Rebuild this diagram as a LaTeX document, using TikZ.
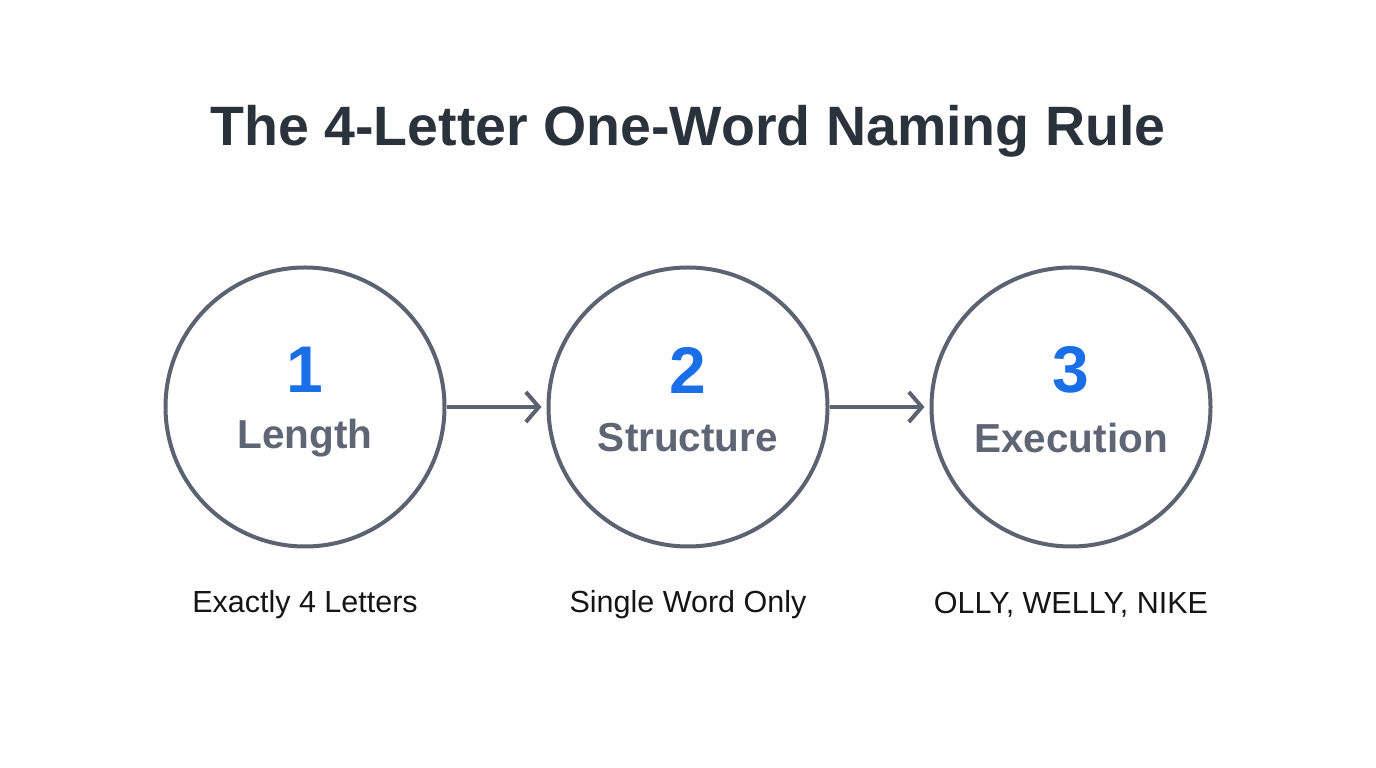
\documentclass[tikz,border=0pt]{standalone}
\usepackage{fontspec}
\setmainfont{Liberation Sans}
\usetikzlibrary{arrows.meta}
\definecolor{ringgray}{HTML}{5B6270}
\definecolor{numblue}{HTML}{1A6FE8}
\definecolor{titlecol}{HTML}{2A323C}
\definecolor{labgray}{HTML}{5F6673}
\definecolor{captcol}{HTML}{151515}
\begin{document}
\begin{tikzpicture}[x=1pt,y=1pt,
  ring/.style={circle,draw=ringgray,line width=4pt,minimum size=279pt,inner sep=0pt},
  numtxt/.style={font=\fontsize{66}{70}\selectfont\bfseries,text=numblue},
  labtxt/.style={font=\fontsize{40.5}{44}\selectfont\bfseries,text=labgray},
  capt/.style={font=\fontsize{30.5}{34}\selectfont,text=captcol},
  conn/.style={draw=ringgray,line width=4pt,-{Straight Barb[length=13pt,width=30pt,line width=4pt]}}]
\useasboundingbox (0,0) rectangle (1376,768);
\fill[white] (0,0) rectangle (1376,768);
\node[font=\fontsize{55.5}{60}\selectfont\bfseries,text=titlecol] (title) at (688,637) {The 4-Letter One-Word Naming Rule};
\node[ring] (c1) at (305,361) {};
\node[ring] (c2) at (688,361) {};
\node[ring] (c3) at (1071,361) {};
\node[numtxt] (n1) at (305,398) {1};
\node[numtxt] (n2) at (688,398) {2};
\node[numtxt] (n3) at (1071,398) {3};
\node[labtxt] (l1) at (305,330) {Length};
\node[labtxt] (l2) at (688,330) {Structure};
\node[labtxt] (l3) at (1071,330) {Execution};
\node[capt] (d1) at (305,163) {Exactly 4 Letters};
\node[capt] (d2) at (688,163) {Single Word Only};
\node[capt] (d3) at (1071,163) {OLLY, WELLY, NIKE};
\draw[conn] (c1.east) -- ([xshift=-5pt]c2.west);
\draw[conn] (c2.east) -- ([xshift=-5pt]c3.west);
\end{tikzpicture}
\end{document}
